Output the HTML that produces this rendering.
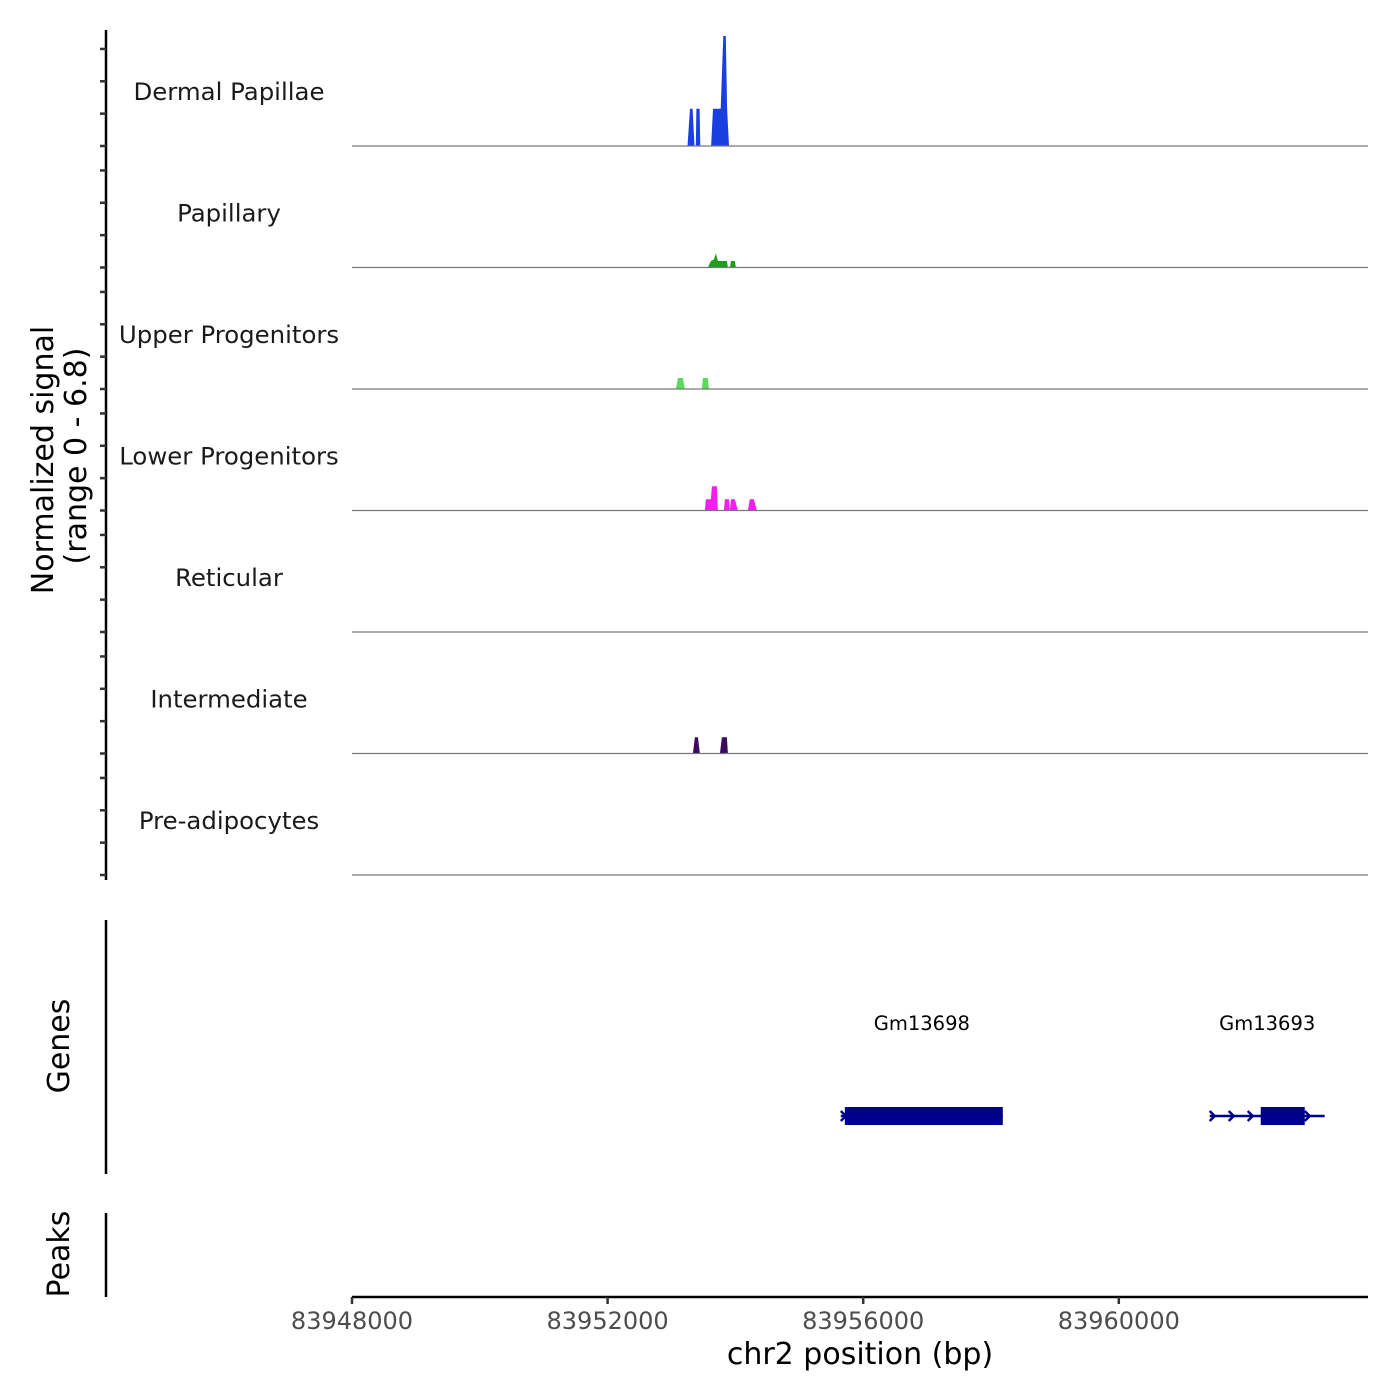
<!DOCTYPE html>
<html><head><meta charset="utf-8"><style>
html,body{margin:0;padding:0;background:#fff}
svg{display:block;font-family:"DejaVu Sans","Liberation Sans",sans-serif}
</style></head><body>
<svg id="chart" width="1400" height="1400" viewBox="0 0 1400 1400" xmlns="http://www.w3.org/2000/svg">
<g id="tracks"></g>
<g id="yaxis">
<line x1="106" y1="30" x2="106" y2="880" stroke="#000" stroke-width="2.5"/>
</g>
<text x="53" y="460" font-size="30" text-anchor="middle" transform="rotate(-90 53 460)">Normalized signal</text>
<text x="86" y="456" font-size="30" text-anchor="middle" transform="rotate(-90 86 456)">(range 0 - 6.8)</text>
<g>
<line x1="106" y1="920" x2="106" y2="1174" stroke="#000" stroke-width="2.5"/>
<text x="69" y="1046" font-size="30" text-anchor="middle" transform="rotate(-90 69 1046)">Genes</text>
<g id="genes"></g>
</g>
<g>
<line x1="106" y1="1213" x2="106" y2="1297" stroke="#000" stroke-width="2.5"/>
<text x="69" y="1254" font-size="30" text-anchor="middle" transform="rotate(-90 69 1254)">Peaks</text>
</g>
<g id="xaxis">
<line x1="352" y1="1297" x2="1368" y2="1297" stroke="#000" stroke-width="2.5"/>
</g>
<text x="860" y="1364" font-size="30" text-anchor="middle">chr2 position (bp)</text>
</svg>
<script>
const xMin = 83948000, xMax = 83963900;
const xTicks = [83948000, 83952000, 83956000, 83960000];
const trackNames = ["Dermal Papillae","Papillary","Upper Progenitors","Lower Progenitors","Reticular","Intermediate","Pre-adipocytes"];
const trackColors = ["#1a3fe0","#1aa01a","#5ada5a","#ee20ee","#888","#3a0a60","#888"];
const yMaxVal = 6.8;
const yTicks = [0,2,4,6];
const dermalPos = [83953250,83953290,83953330,83953360,83953380,83953390,83953440,83953450,83953620,83953650,83953770,83953790,83953810,83953850,83953870,83953900];
const dermalVal = [0,2.3,2.3,0,0,2.3,2.3,0,0,2.3,2.3,4.6,6.8,6.8,2.3,0];
const papPos = [83953570,83953617,83953664,83953695,83953726,83953867,83953883,83953914,83953930,83953992,83954008];
const papVal = [0,0.4,0.5,0.87,0.4,0.4,0,0,0.4,0.4,0];
const upperPos = [83953069,83953100,83953178,83953210,83953476,83953492,83953570,83953585];
const upperVal = [0,0.68,0.68,0,0,0.68,0.68,0];
const lowerPos = [83953523,83953538,83953617,83953632,83953710,83953726,83953820,83953836,83953898,83953914,83953930,83953992,83954039,83954195,83954226,83954289,83954336];
const lowerVal = [0,0.7,0.7,1.5,1.5,0,0,0.7,0.7,0,0.7,0.7,0,0,0.7,0.7,0];
const interPos = [83953335,83953366,83953413,83953445,83953757,83953789,83953867,83953883];
const interVal = [0,1.0,1.0,0,0,1.0,1.0,0];
const seriesPos = [dermalPos,papPos,upperPos,lowerPos,[],interPos,[]];
const seriesVal = [dermalVal,papVal,upperVal,lowerVal,[],interVal,[]];
const geneNames = ["Gm13698","Gm13693"];
const geneStart = [83955650, 83961423];
const geneEnd = [83958185, 83963222];
const exonStart = [83955713, 83962221];
const exonEnd = [83958185, 83962910];

const NS="http://www.w3.org/2000/svg";
const X0=352,X1=1368;
const xs = v => X0 + (v - xMin) / (xMax - xMin) * (X1 - X0);
const trackBase = i => 146 + i * 121.5;
const ys = (i,v) => trackBase(i) - v / yMaxVal * 110;
function mk(tag, attrs, parent){const e=document.createElementNS(NS,tag);for(const k in attrs)e.setAttribute(k,attrs[k]);parent.appendChild(e);return e;}

const tracks=document.getElementById('tracks');
const yaxis=document.getElementById('yaxis');
trackNames.forEach((name,i)=>{
  const g=mk('g',{},tracks);
  
  
  const t=mk('text',{x:229,y:trackBase(i)-46,'font-size':24.4,'text-anchor':'middle',fill:'#1a1a1a'},g);
  t.textContent=name;
  
  
  const pos=seriesPos[i], val=seriesVal[i];
  if(pos.length){
    let pts=pos.map((p,k)=>xs(p).toFixed(1)+','+ys(i,val[k]).toFixed(1)).join(' ');
    const a=mk('polygon',{points:pts,fill:trackColors[i]},g);
    
    
  }
  const b=mk('line',{x1:X0,x2:X1,y1:trackBase(i),y2:trackBase(i),stroke:'#777','stroke-width':1.2},g);
  
  
  yTicks.forEach(v=>{
    const tk=mk('line',{x1:100,x2:106,y1:ys(i,v),y2:ys(i,v),stroke:'#333','stroke-width':2.5},yaxis);
    
    
  });
});

const xa=document.getElementById('xaxis');
xTicks.forEach(v=>{
  const l=mk('line',{x1:xs(v),x2:xs(v),y1:1297,y2:1304,stroke:'#333','stroke-width':2.5},xa);
  
  
  const t=mk('text',{x:xs(v),y:1329,'font-size':24,'text-anchor':'middle',fill:'#4d4d4d'},xa);
  t.textContent=String(v);
  
  
});

const gg=document.getElementById('genes');
const gy=1116;
geneNames.forEach((n,i)=>{
  const g=mk('g',{},gg);
  
  
  const s=xs(geneStart[i]), e=xs(geneEnd[i]);
  mk('line',{x1:s,x2:e,y1:gy,y2:gy,stroke:'#00008b','stroke-width':2.5},g);
  for(let x=s+4;x<e;x+=19){
    mk('polyline',{points:`${x-4},${gy-5} ${x+1},${gy} ${x-4},${gy+5}`,fill:'none',stroke:'#00008b','stroke-width':2.5},g);
  }
  mk('rect',{x:xs(exonStart[i]),y:gy-9,width:xs(exonEnd[i])-xs(exonStart[i]),height:18,fill:'#00008b'},g);
  const t=mk('text',{x:(s+e)/2,y:1030,'font-size':19.5,'text-anchor':'middle',fill:'#000'},g);
  t.textContent=n;
  
  
});
</script>
</body></html>
